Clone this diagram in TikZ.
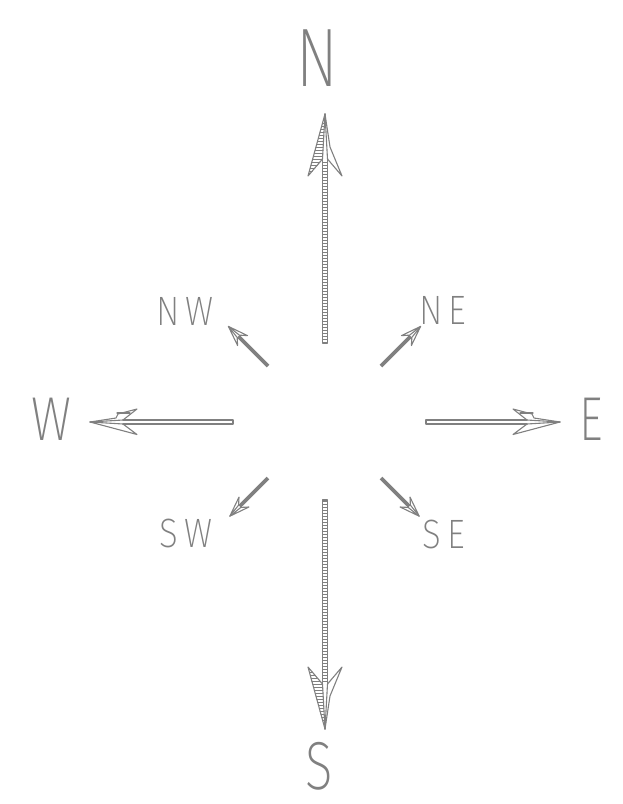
\documentclass[tikz,border=0pt]{standalone}
\usepackage{fontspec}
\setmainfont{Fira Sans}[UprightFont=* ExtraLight]
\definecolor{ink}{HTML}{808080}
\begin{document}
\begin{tikzpicture}[x=1pt,y=-1pt,line join=round,line cap=round,
  ink/.style={draw=ink,line width=1.1pt},
  rung/.style={draw=ink,line width=0.7pt},
  lbl/.style={text=ink,inner sep=0pt,font=\fontsize{#1}{#1}\selectfont}]
\useasboundingbox (0,0) rectangle (623,804);

% long hatched arrow: tip at origin, body running along +y
\newcommand\longArrow{%
  \draw[ink] (0,0) -- (-17,62) -- (-2.5,45);
  \draw[ink] (0,0) -- (5,33) -- (17,62) -- (2.5,45);
  \draw[ink] (0,0) -- (-2.5,45);
  \draw[ink] (0,0) -- (2.5,45);
  \foreach \d in {6,9,...,60}{
    \pgfmathsetmacro\xl{-17*\d/62}
    \pgfmathsetmacro\xr{(\d<45)?(-2.5*\d/45):(-2.5-14.5*(\d-45)/17)}
    \draw[rung] (\xl,\d) -- (\xr,\d);}
  \draw[ink] (-2.5,45) -- (-2.5,229) -- (2.5,229) -- (2.5,45);
  \foreach \d in {48,51,...,228}{\draw[rung] (-2.5,\d) -- (2.5,\d);}
}

% horizontal double-line arrow of length #1, pointing along +x
\newcommand\sideArrow[1]{%
  \def\L{#1}
  \draw[ink] ({\L-33},-2) -- (0,-2) -- (0,2) -- ({\L-33},2);
  \draw[ink] (\L,0) -- ({\L-26},-4) -- ({\L-28},-8) -- ({\L-47},-13) -- ({\L-33},-2);
  \draw[ink] ({\L-40},-9) -- ({\L-27},-9);
  \draw[ink] (\L,0) -- ({\L-47},12.5) -- ({\L-33},2);
  \draw[ink] ({\L-33},-2) -- (\L,0) -- ({\L-33},2);
}

% short diagonal arrow of length #1, pointing along +x
\newcommand\shortArrow[1]{%
  \def\L{#1}
  \draw[draw=ink,line width=3.6pt,line cap=butt] (0,0) -- ({\L-14},0);
  \draw[ink] (\L,0) -- ({\L-20},-7) -- ({\L-14},-1.6) -- (\L,0);
  \draw[ink] (\L,0) -- ({\L-20},7) -- ({\L-14},1.6) -- (\L,0);
}

% north and south
\begin{scope}[shift={(325,114)}]\longArrow\end{scope}
\begin{scope}[shift={(325,729)},yscale=-1]\longArrow\end{scope}

% east and west
\begin{scope}[shift={(426,422)}]\sideArrow{134}\end{scope}
\begin{scope}[shift={(233,422)},xscale=-1]\sideArrow{143}\end{scope}

% diagonals
\begin{scope}[shift={(268,366)},rotate=135]\shortArrow{56}\end{scope}
\begin{scope}[shift={(381,366)},rotate=45]\shortArrow{56}\end{scope}
\begin{scope}[shift={(268,478)},rotate=225]\shortArrow{54}\end{scope}
\begin{scope}[shift={(381,478)},rotate=315]\shortArrow{54}\end{scope}

% compass labels
\node[lbl=83,xscale=0.75] (n) at (317,58) {N};
\node[lbl=68,xscale=0.75] (s) at (319,766) {S};
\node[lbl=62,xscale=0.8] (w) at (51,419) {W};
\node[lbl=62,xscale=0.75] (e) at (591,419) {E};
\node[lbl=41,xscale=0.85] (nw) at (185,311) {N\,W};
\node[lbl=41,xscale=0.85] (ne) at (443,310) {N\,E};
\node[lbl=41,xscale=0.85] (sw) at (186,533) {S\,W};
\node[lbl=41,xscale=0.85] (se) at (444,534) {S\,E};
\end{tikzpicture}
\end{document}
